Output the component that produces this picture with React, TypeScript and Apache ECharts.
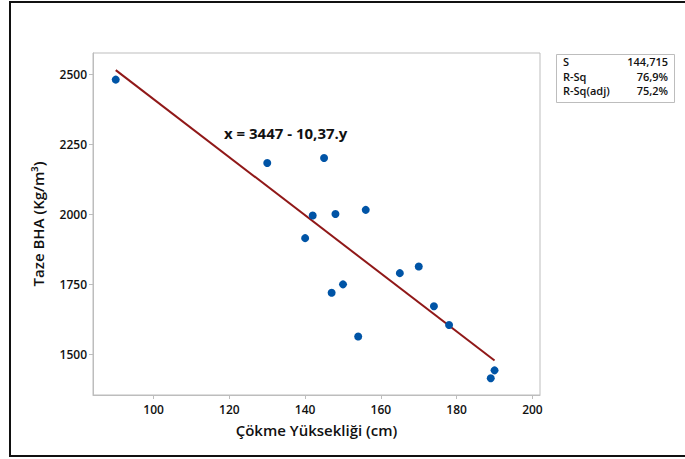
import React, { useEffect, useRef } from "react";
import * as echarts from "echarts";

const slump = [90, 130, 145, 142, 148, 156, 140, 165, 170, 147, 150, 174, 178, 154, 190, 189];
const density = [2480, 2182, 2200, 1995, 2000, 2015, 1914, 1789, 1813, 1719, 1749, 1671, 1604, 1563, 1442, 1414];
const fitX = [90, 190];
const fitY = [2514, 1477];
const xTicks = [100, 120, 140, 160, 180, 200];
const yTicks = [1500, 1750, 2000, 2250, 2500];
const statNames = ["S", "R-Sq", "R-Sq(adj)"];
const statValues = ["144,715", "76,9%", "75,2%"];
const equation = "x = 3447 - 10,37.y";
const xTitle = "Çökme Yüksekliği (cm)";
const yTitle = "Taze BHA (Kg/m³)";

const FONT = "'Open Sans', 'Noto Sans', sans-serif";

export default function App() {
  const ref = useRef<HTMLDivElement>(null);
  useEffect(() => {
    if (!ref.current) return;
    const chart = echarts.init(ref.current, undefined, { renderer: "svg" });
    const gray = "#bdbdbd";
    const statGraphics: any[] = [];
    statNames.forEach((n, i) => {
      statGraphics.push({
        type: "text",
        left: 563,
        top: 56 + i * 14.5,
        style: { text: n, font: `600 11px ${FONT}`, fill: "#111" },
      });
      statGraphics.push({
        type: "text",
        right: 685 - 668,
        top: 56 + i * 14.5,
        style: { text: statValues[i], font: `600 11px ${FONT}`, fill: "#111", textAlign: "right" },
      });
    });
    chart.setOption({
      animation: false,
      backgroundColor: "#fff",
      textStyle: { fontFamily: FONT },
      grid: {
        left: 93,
        top: 53,
        width: 447,
        height: 342,
        show: true,
        borderColor: gray,
        borderWidth: 1,
        backgroundColor: "#fff",
      },
      xAxis: {
        type: "value",
        min: 84,
        max: 202,
        name: xTitle,
        nameLocation: "middle",
        nameGap: 27,
        nameTextStyle: { fontFamily: FONT, fontSize: 15, fontWeight: 600, color: "#111" },
        axisLine: { show: true, lineStyle: { color: gray } },
        axisTick: { show: true, length: 4, lineStyle: { color: gray }, customValues: xTicks },
        axisLabel: { customValues: xTicks, fontSize: 12, fontWeight: 600, color: "#111", margin: 8, fontFamily: FONT, formatter: (v: number) => String(v) },
        splitLine: { show: false },
      },
      yAxis: {
        type: "value",
        min: 1354,
        max: 2575,
        name: yTitle,
        nameLocation: "middle",
        nameGap: 48,
        nameRotate: 90,
        nameTextStyle: { fontFamily: FONT, fontSize: 15, fontWeight: 600, color: "#111" },
        axisLine: { show: true, lineStyle: { color: gray } },
        axisTick: { show: true, length: 4, lineStyle: { color: gray }, customValues: yTicks },
        axisLabel: { customValues: yTicks, fontSize: 12, fontWeight: 600, color: "#111", margin: 6, fontFamily: FONT, formatter: (v: number) => String(v) },
        splitLine: { show: false },
      },
      series: [
        {
          type: "line",
          data: fitX.map((x, i) => [x, fitY[i]]),
          showSymbol: false,
          symbol: "none",
          lineStyle: { color: "#901818", width: 2 },
          z: 2,
        },
        {
          type: "scatter",
          data: slump.map((x, i) => [x, density[i]]),
          symbolSize: 8,
          itemStyle: { color: "#0054A6", opacity: 1 },
          z: 3,
        },
      ],
      graphic: [
        {
          type: "rect",
          shape: { x: 10, y: 2, width: 690, height: 454 },
          style: { fill: "none", stroke: "#111", lineWidth: 2 },
          z: 0,
          silent: true,
        },
        {
          type: "rect",
          shape: { x: 556.5, y: 54.5, width: 118, height: 48 },
          style: { fill: "#fff", stroke: gray, lineWidth: 1 },
        },
        ...statGraphics,
        {
          type: "text",
          left: 224,
          top: 125,
          style: { text: equation, font: `bold 15px ${FONT}`, fill: "#111" },
        },
      ],
    });
    return () => chart.dispose();
  }, []);
  return <div ref={ref} style={{ position: "absolute", left: 0, top: 0, width: 685, height: 459 }} />;
}
